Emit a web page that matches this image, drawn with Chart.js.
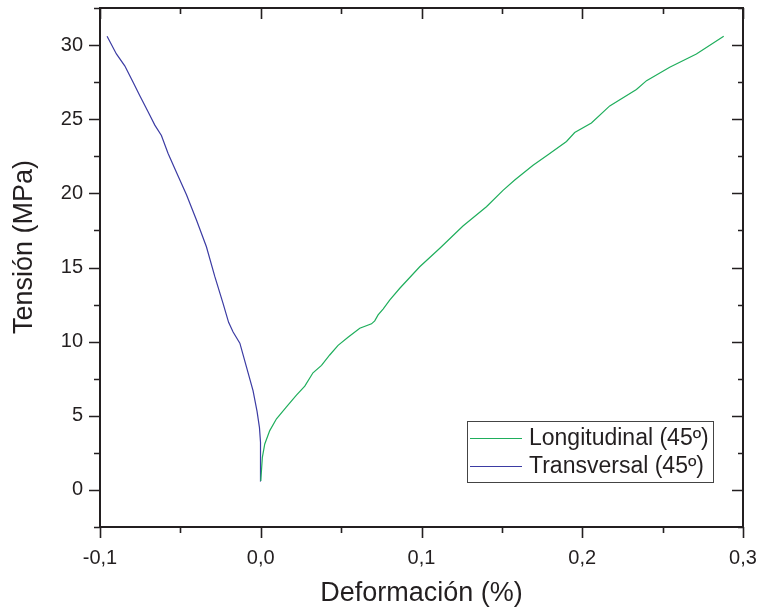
<!DOCTYPE html>
<html>
<head>
<meta charset="utf-8">
<script src="https://cdn.jsdelivr.net/npm/chart.js@4/dist/chart.umd.min.js"></script>
<style>
  html, body { margin: 0; padding: 0; background: #fff; }
  #wrap { width: 761px; height: 610px; }
</style>
</head>
<body>
<div id="wrap"><canvas id="stressChart"></canvas></div>
<script>
// tick values
const xTicks = [-0.1, 0.0, 0.1, 0.2, 0.3];
const yTicks = [0, 5, 10, 15, 20, 25, 30];

// Longitudinal (45º)
const longX = [0, 0.001, 0.0025, 0.0056, 0.0098, 0.016, 0.0222, 0.0274, 0.0325, 0.0378, 0.0429, 0.0481, 0.0543, 0.0616, 0.0689, 0.0709, 0.073, 0.0761, 0.0802, 0.0865, 0.0989, 0.1114, 0.1258, 0.1404, 0.1507, 0.158, 0.1694, 0.1787, 0.1902, 0.1953, 0.2057, 0.2171, 0.2337, 0.24, 0.2544, 0.271, 0.288];
const longY = [0.6, 2.2, 3.1, 4.0, 4.8, 5.6, 6.4, 7.0, 7.9, 8.4, 9.1, 9.75, 10.3, 10.9, 11.2, 11.4, 11.8, 12.2, 12.8, 13.6, 15.05, 16.3, 17.8, 19.1, 20.2, 20.9, 21.9, 22.6, 23.5, 24.1, 24.75, 25.9, 27.0, 27.6, 28.5, 29.4, 30.6];

// Transversal (45º)
const transX = [0, 0, -0.0003, -0.0008, -0.0023, -0.0048, -0.0089, -0.013, -0.0172, -0.020, -0.0235, -0.0286, -0.0338, -0.040, -0.0462, -0.0524, -0.0577, -0.0618, -0.0659, -0.0701, -0.0753, -0.0794, -0.0846, -0.0898, -0.0956];
const transY = [0.6, 2.0, 3.2, 4.2, 5.3, 6.7, 8.3, 9.9, 10.65, 11.3, 12.6, 14.4, 16.4, 18.2, 19.9, 21.4, 22.7, 23.9, 24.6, 25.5, 26.6, 27.5, 28.6, 29.4, 30.6];

const ink = '#231f20';
const family = '"Liberation Sans", Arial, sans-serif';
const toPts = (xs, ys) => xs.map((x, i) => ({ x: x, y: ys[i] }));
const fmt = v => (Math.round(v * 10) / 10).toFixed(1).replace('.', ',');
const noPad = s => { s.paddingTop = 0; s.paddingBottom = 0; s.paddingLeft = 0; s.paddingRight = 0; };

// frame with Origin-style ticks (outside on bottom/left, inside on top/right), y title, legend
const framePlugin = {
  id: 'frame',
  afterDraw(chart) {
    const { ctx, chartArea: a, scales: { x, y } } = chart;
    ctx.save();
    ctx.strokeStyle = ink;
    ctx.lineWidth = 2;
    ctx.strokeRect(a.left, a.top, a.right - a.left, a.bottom - a.top);
    ctx.lineWidth = 1.6;
    ctx.beginPath();
    for (let v = -0.1; v <= 0.3001; v += 0.05) {
      const major = Math.abs(Math.round(v * 10) - v * 10) < 1e-6;
      const px = Math.round(x.getPixelForValue(v)) + 0.5;
      const outLen = major ? 11 : 6;
      const inLen = major ? 11 : 6;
      ctx.moveTo(px, a.bottom); ctx.lineTo(px, a.bottom + outLen);
      ctx.moveTo(px, a.top); ctx.lineTo(px, a.top + inLen);
    }
    for (let v = -2.5; v <= 32.5; v += 2.5) {
      const major = v % 5 === 0;
      const py = Math.round(y.getPixelForValue(v)) + 0.5;
      const outLen = major ? 11 : 6;
      const inLen = major ? 11 : 5;
      ctx.moveTo(a.left - outLen, py); ctx.lineTo(a.left, py);
      ctx.moveTo(a.right, py); ctx.lineTo(a.right - inLen, py);
    }
    ctx.stroke();

    // y axis title (sits a little above the plot centre in the original)
    ctx.save();
    ctx.translate(25, 247);
    ctx.rotate(-Math.PI / 2);
    ctx.fillStyle = ink;
    ctx.font = '27px ' + family;
    ctx.textAlign = 'center';
    ctx.textBaseline = 'middle';
    ctx.fillText('Tensión (MPa)', 0, 0);
    ctx.restore();

    // legend box
    const bx = 467, by = 421, bw = 246, bh = 61;
    ctx.fillStyle = '#fff';
    ctx.fillRect(bx, by, bw, bh);
    ctx.lineWidth = 1;
    ctx.strokeStyle = '#444';
    ctx.strokeRect(bx + 0.5, by + 0.5, bw, bh);
    ctx.font = '23px ' + family;
    ctx.textBaseline = 'middle';
    chart.data.datasets.forEach((ds, i) => {
      const ly = by + 17 + i * 28;
      ctx.strokeStyle = ds.borderColor;
      ctx.lineWidth = 1.2;
      ctx.beginPath();
      ctx.moveTo(bx + 3, ly + 0.5); ctx.lineTo(bx + 55, ly + 0.5);
      ctx.stroke();
      ctx.fillStyle = ink;
      ctx.fillText(ds.label, bx + 62, ly + 1);
    });
    ctx.restore();
  }
};

new Chart(document.getElementById('stressChart'), {
  type: 'scatter',
  data: {
    datasets: [{
      label: 'Longitudinal (45º)',
      data: toPts(longX, longY),
      borderColor: '#1fae5c',
      borderWidth: 1.2,
      showLine: true,
      pointRadius: 0,
      tension: 0
    }, {
      label: 'Transversal (45º)',
      data: toPts(transX, transY),
      borderColor: '#3b3ba3',
      borderWidth: 1.2,
      showLine: true,
      pointRadius: 0,
      tension: 0
    }]
  },
  options: {
    responsive: true,
    maintainAspectRatio: false,
    animation: false,
    layout: { padding: { top: 8, right: 18, left: 0, bottom: 0 } },
    plugins: { legend: { display: false }, tooltip: { enabled: false } },
    scales: {
      x: {
        type: 'linear',
        min: -0.1,
        max: 0.3,
        afterBuildTicks: s => { s.ticks = xTicks.map(v => ({ value: v })); },
        afterFit: s => { s.height = 83; noPad(s); },
        grid: { display: false, drawTicks: false },
        border: { display: false },
        ticks: {
          padding: 19,
          color: ink,
          maxRotation: 0,
          font: { family: family, size: 20 },
          callback: v => fmt(v)
        },
        title: {
          display: true,
          text: 'Deformación (%)',
          color: ink,
          padding: { top: 0, bottom: 0 },
          font: { family: family, size: 27 }
        }
      },
      y: {
        type: 'linear',
        min: -2.5,
        max: 32.5,
        afterBuildTicks: s => { s.ticks = yTicks.map(v => ({ value: v })); },
        afterFit: s => { s.width = 100; noPad(s); },
        grid: { display: false, drawTicks: false },
        border: { display: false },
        ticks: {
          padding: 17,
          color: ink,
          font: { family: family, size: 20 }
        },
        title: { display: false }
      }
    }
  },
  plugins: [framePlugin]
});
</script>
</body>
</html>
